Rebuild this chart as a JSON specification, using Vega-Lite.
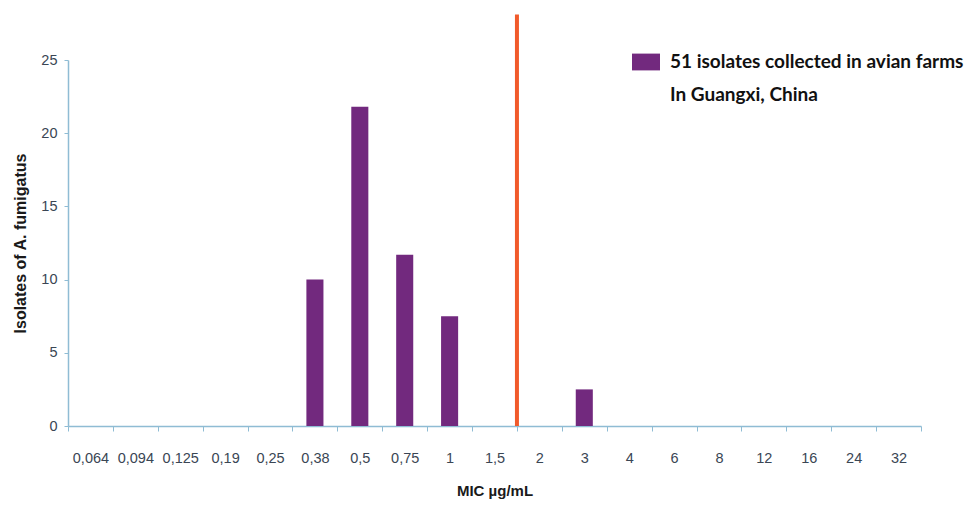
{
  "$schema": "https://vega.github.io/schema/vega-lite/v6.json",
  "width": 853,
  "height": 366,
  "autosize": "none",
  "padding": {"left": 68, "top": 60, "right": 48, "bottom": 80},
  "background": "white",
  "config": {"view": {"stroke": null}, "font": "Liberation Sans"},
  "resolve": {"scale": {"y": "shared"}},
  "layer": [
    {
      "data": {"values": [
        {"mic": "0,38", "count": 10, "series": "51 isolates collected in avian farms"},
        {"mic": "0,5", "count": 21.8, "series": "51 isolates collected in avian farms"},
        {"mic": "0,75", "count": 11.7, "series": "51 isolates collected in avian farms"},
        {"mic": "1", "count": 7.5, "series": "51 isolates collected in avian farms"},
        {"mic": "3", "count": 2.5, "series": "51 isolates collected in avian farms"}
      ]},
      "mark": {"type": "bar", "width": {"band": 0.38}},
      "encoding": {
        "x": {
          "field": "mic", "type": "nominal",
          "scale": {"domain": ["0,064","0,094","0,125","0,19","0,25","0,38","0,5","0,75","1","1,5","2","3","4","6","8","12","16","24","32"], "paddingInner": 0, "paddingOuter": 0},
          "axis": {
            "title": "MIC µg/mL", "titleFontSize": 15, "titleFontWeight": "bold", "titleColor": "#1a1a1a", "titlePadding": 19,
            "labelAngle": 0, "labelFontSize": 14.5, "labelColor": "#3a4654", "labelPadding": 20,
            "tickBand": "extent", "tickSize": 5, "tickColor": "#8fbcd4", "domainColor": "#8fbcd4", "domainWidth": 1.5
          }
        },
        "y": {
          "field": "count", "type": "quantitative",
          "scale": {"domain": [0, 25], "nice": false},
          "axis": {
            "title": "Isolates of A. fumigatus", "titleFontSize": 16, "titleFontWeight": "bold", "titleColor": "#1a1a1a", "titlePadding": 12,
            "values": [0, 5, 10, 15, 20, 25], "grid": false,
            "labelFontSize": 14.5, "labelColor": "#3a4654", "labelPadding": 7,
            "tickSize": 4, "tickColor": "#8fbcd4", "domainColor": "#8fbcd4", "domainWidth": 1.5
          }
        },
        "color": {
          "field": "series", "type": "nominal",
          "scale": {"domain": ["51 isolates collected in avian farms", "In Guangxi, China"], "range": ["#72297e", "rgba(0,0,0,0)"]},
          "legend": {
            "orient": "none", "legendX": 564, "legendY": -12, "title": null,
            "symbolType": "M-1,-0.6H1V0.6H-1Z", "symbolSize": 784, "symbolStrokeWidth": 0,
            "labelFont": "Lato", "labelFontWeight": "bold", "labelFontSize": 19, "labelColor": "#111111",
            "labelLimit": 400, "labelOffset": 10, "rowPadding": 9
          }
        }
      }
    },
    {
      "data": {"values": [{"mic": "2", "low": 0, "high": 28.1}]},
      "mark": {"type": "rule", "color": "#f15a2b", "strokeWidth": 4, "clip": false},
      "encoding": {
        "x": {"field": "mic", "type": "nominal", "bandPosition": 0},
        "y": {"field": "low", "type": "quantitative", "scale": {"domain": [0, 25], "nice": false}},
        "y2": {"field": "high"}
      }
    }
  ]
}
